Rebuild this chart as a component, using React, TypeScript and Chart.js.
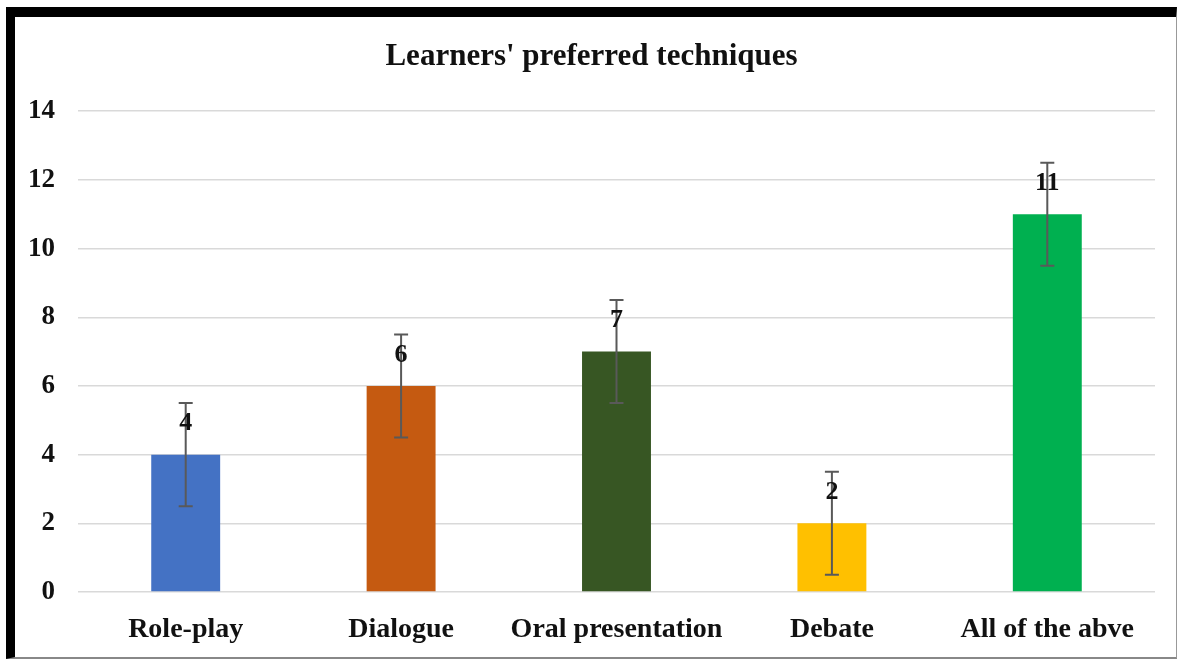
import React, { useEffect, useRef } from "react";
import { Chart, registerables } from "chart.js";

Chart.register(...registerables);

const categories = ["Role-play", "Dialogue", "Oral presentation", "Debate", "All of the abve"];
const values = [4, 6, 7, 2, 11];
const errors = [1.5, 1.5, 1.5, 1.5, 1.5];
const barColors = ["#4472c4", "#c55a11", "#375623", "#ffc000", "#00b050"];
const yTicks = [0, 2, 4, 6, 8, 10, 12, 14];
const titleText = "Learners' preferred techniques";

const FONT = "'Liberation Serif', 'Times New Roman', serif";

const errorBarPlugin = {
  id: "errorBars",
  afterDatasetsDraw(chart: any) {
    const ctx = chart.ctx;
    const meta = chart.getDatasetMeta(0);
    const y = chart.scales.y;
    ctx.save();
    ctx.strokeStyle = "#595959";
    ctx.lineWidth = 2;
    meta.data.forEach((bar: any, i: number) => {
      const x = bar.x;
      const top = y.getPixelForValue(values[i] + errors[i]);
      const bot = y.getPixelForValue(values[i] - errors[i]);
      ctx.beginPath();
      ctx.moveTo(x, top);
      ctx.lineTo(x, bot);
      ctx.moveTo(x - 7, top);
      ctx.lineTo(x + 7, top);
      ctx.moveTo(x - 7, bot);
      ctx.lineTo(x + 7, bot);
      ctx.stroke();
    });
    ctx.restore();
  },
};

const dataLabelPlugin = {
  id: "dataLabels",
  afterDatasetsDraw(chart: any) {
    const ctx = chart.ctx;
    const meta = chart.getDatasetMeta(0);
    ctx.save();
    ctx.font = `bold 26px ${FONT}`;
    ctx.fillStyle = "#111";
    ctx.textAlign = "center";
    ctx.textBaseline = "middle";
    meta.data.forEach((bar: any, i: number) => {
      ctx.fillText(String(values[i]), bar.x, bar.y - 31);
    });
    ctx.restore();
  },
};

export default function App() {
  const ref = useRef<HTMLCanvasElement>(null);

  useEffect(() => {
    if (!ref.current) return;
    const chart = new Chart(ref.current, {
      type: "bar",
      data: {
        labels: categories,
        datasets: [
          {
            data: values,
            backgroundColor: barColors,
            categoryPercentage: 1,
            barPercentage: 0.32,
          },
        ],
      },
      plugins: [errorBarPlugin, dataLabelPlugin],
      options: {
        responsive: false,
        animation: false,
        layout: { padding: { left: 13, right: 21, top: 0, bottom: 12 } },
        plugins: {
          legend: { display: false },
          tooltip: { enabled: false },
          title: {
            display: true,
            text: titleText,
            color: "#111",
            font: { family: FONT, size: 31, weight: "bold", lineHeight: 1.2 },
            padding: { top: 21, bottom: 36 },
          },
        },
        scales: {
          x: {
            afterFit(scale: any) {
              scale.height = 53;
            },
            grid: { display: false, drawTicks: false },
            border: { display: false },
            ticks: {
              color: "#111",
              padding: 21,
              minRotation: 0,
              maxRotation: 0,
              autoSkip: false,
              font: { family: FONT, size: 28, weight: "bold", lineHeight: 1.2 },
            },
          },
          y: {
            min: 0,
            max: 14,
            afterFit(scale: any) {
              scale.width = 50;
            },
            afterBuildTicks(scale: any) {
              scale.ticks = yTicks.map((v) => ({ value: v }));
            },
            grid: { color: "#d9d9d9", lineWidth: 1.5, drawTicks: false },
            border: { display: false },
            ticks: {
              color: "#111",
              padding: 23,
              font: { family: FONT, size: 27, weight: "bold", lineHeight: 1.2 },
            },
          },
        },
      },
    });
    return () => chart.destroy();
  }, []);

  return (
    <div style={{ position: "fixed", left: 0, top: 0, width: 1177, height: 659, background: "#fff" }}>
      <div
        style={{
          position: "absolute",
          left: 6,
          top: 7,
          width: 1161,
          height: 640,
          borderLeft: "9px solid #000",
          borderTop: "10px solid #000",
          borderRight: "1px solid #999",
          borderBottom: "2px solid #888",
        }}
      >
        <canvas ref={ref} width={1161} height={640} style={{ display: "block" }} />
      </div>
    </div>
  );
}
